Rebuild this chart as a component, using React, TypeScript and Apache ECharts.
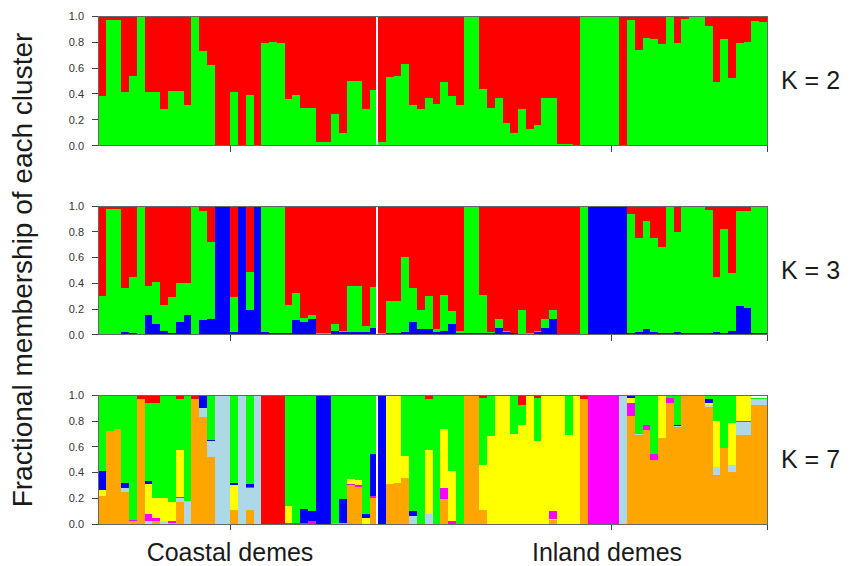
import React, { useEffect, useRef } from "react";
import * as echarts from "echarts";

// ---------- categories ----------
const N_COASTAL = 36;
const N_INLAND = 50;
const INDIVIDUALS: string[] = [
  ...Array.from({ length: N_COASTAL }, (_, i) => `C${i + 1}`),
  ...Array.from({ length: N_INLAND }, (_, i) => `I${i + 1}`),
];
const GROUP_LABELS = ["Coastal demes", "Inland demes"];
const GROUP_TICK_INDEX = [17, 66];
const Y_TICKS = [0, 0.2, 0.4, 0.6, 0.8, 1.0];
const PANEL_LABELS = ["K = 2", "K = 3", "K = 7"];

// ---------- K = 2 ----------
const K2_GREEN = [
  0.38, 0.97, 0.97, 0.41, 0.54, 0.99, 0.41, 0.41, 0.28, 0.42, 0.42, 0.31, 0.99, 0.73, 0.62, 0, 0, 0.41, 0, 0.39, 0, 0.79, 0.8, 0.79, 0.36, 0.39, 0.29, 0.29, 0.03, 0.03, 0.24, 0.1, 0.5, 0.5, 0.28, 0.43,
  0.03, 0.53, 0.54, 0.63, 0.31, 0.28, 0.37, 0.32, 0.49, 0.38, 0.31, 0.99, 0.99, 0.44, 0.29, 0.37, 0.17, 0.1, 0.28, 0.13, 0.16, 0.37, 0.37, 0.01, 0.01, 0, 1, 1, 1, 1, 1, 0, 0.97, 0.74, 0.83, 0.82, 0.78, 0.99, 0.79, 0.98, 0.99, 0.99, 0.92, 0.49, 0.82, 0.52, 0.79, 0.8, 0.96, 0.95,
];
const K2_RED = [
  0.62, 0.03, 0.03, 0.59, 0.46, 0.01, 0.59, 0.59, 0.72, 0.58, 0.58, 0.69, 0.01, 0.27, 0.38, 1, 1, 0.59, 1, 0.61, 1, 0.21, 0.2, 0.21, 0.64, 0.61, 0.71, 0.71, 0.97, 0.97, 0.76, 0.9, 0.5, 0.5, 0.72, 0.57,
  0.97, 0.47, 0.46, 0.37, 0.69, 0.72, 0.63, 0.68, 0.51, 0.62, 0.69, 0.01, 0.01, 0.56, 0.71, 0.63, 0.83, 0.9, 0.72, 0.87, 0.84, 0.63, 0.63, 0.99, 0.99, 1, 0, 0, 0, 0, 0, 1, 0.03, 0.26, 0.17, 0.18, 0.22, 0.01, 0.21, 0.02, 0.01, 0.01, 0.08, 0.51, 0.18, 0.48, 0.21, 0.2, 0.04, 0.05,
];

// ---------- K = 3 ----------
const K3_BLUE = [
  0, 0, 0, 0.02, 0.01, 0, 0.15, 0.08, 0.03, 0.01, 0.1, 0.15, 0, 0.11, 0.12, 1, 1, 0.02, 1, 0.19, 1, 0.02, 0.01, 0.01, 0.01, 0.11, 0.1, 0.12, 0, 0, 0.03, 0.02, 0.02, 0.02, 0.02, 0.05,
  0, 0.01, 0.01, 0.02, 0.1, 0.04, 0.04, 0.02, 0.03, 0.08, 0.01, 0.01, 0.01, 0.01, 0.01, 0.05, 0.02, 0.01, 0, 0, 0.02, 0.05, 0.12, 0, 0, 0, 0, 1, 1, 1, 1, 1, 0.01, 0.02, 0.04, 0.02, 0.01, 0.01, 0.02, 0.01, 0.01, 0.01, 0.01, 0.02, 0.01, 0.03, 0.22, 0.21, 0.01, 0.01,
];
const K3_GREEN = [
  0.3, 0.98, 0.98, 0.34, 0.44, 0.99, 0.23, 0.33, 0.2, 0.28, 0.3, 0.25, 0.99, 0.85, 0.6, 0, 0, 0.27, 0, 0.3, 0, 0.97, 0.98, 0.98, 0.22, 0.21, 0.03, 0.03, 0.01, 0.01, 0.05, 0.01, 0.36, 0.36, 0.05, 0.32,
  0.01, 0.25, 0.25, 0.58, 0.26, 0.15, 0.26, 0.02, 0.28, 0.1, 0.02, 0.98, 0.98, 0.3, 0.01, 0.07, 0.01, 0, 0.19, 0.01, 0.01, 0.07, 0.07, 0, 0, 0, 1, 0, 0, 0, 0, 0, 0.93, 0.73, 0.84, 0.73, 0.67, 0.98, 0.78, 0.98, 0.98, 0.98, 0.96, 0.43, 0.81, 0.45, 0.74, 0.75, 0.98, 0.98,
];
const K3_RED = [
  0.7, 0.02, 0.02, 0.64, 0.55, 0.01, 0.62, 0.59, 0.77, 0.71, 0.6, 0.6, 0.01, 0.04, 0.28, 0, 0, 0.71, 0, 0.51, 0, 0.01, 0.01, 0.01, 0.77, 0.68, 0.87, 0.85, 0.99, 0.99, 0.92, 0.97, 0.62, 0.62, 0.93, 0.63,
  0.99, 0.74, 0.74, 0.4, 0.64, 0.81, 0.7, 0.96, 0.69, 0.82, 0.97, 0.01, 0.01, 0.69, 0.98, 0.88, 0.97, 0.99, 0.81, 0.99, 0.97, 0.88, 0.81, 1, 1, 1, 0, 0, 0, 0, 0, 0, 0.06, 0.25, 0.12, 0.25, 0.32, 0.01, 0.2, 0.01, 0.01, 0.01, 0.03, 0.55, 0.18, 0.52, 0.04, 0.04, 0.01, 0.01,
];

// ---------- K = 7 ----------
const K7_ORANGE = [
  0.22, 0.72, 0.74, 0.25, 0.02, 0.97, 0, 0.02, 0, 0.01, 0.17, 0, 0.97, 0.83, 0.52, 0, 0, 0.11, 0, 0.11, 0, 0, 0, 0, 0, 0, 0, 0, 0, 0, 0.01, 0.01, 0.3, 0.29, 0, 0.2,
  0, 0.31, 0.32, 0.36, 0, 0, 0, 0, 0.19, 0, 0, 1, 1, 0.11, 0, 0, 0, 0, 0, 0, 0, 0, 0.03, 0, 0, 0, 0.97, 0, 0, 0, 0, 0, 0.84, 0.69, 0.73, 0.5, 0.67, 0.94, 0.75, 0.99, 0.99, 0.99, 0.91, 0.38, 0.59, 0.4, 0.69, 0.69, 0.92, 0.92,
];
const K7_LIGHTBLUE = [
  0, 0, 0, 0.03, 0, 0, 0.02, 0, 0.02, 0, 0.03, 0.18, 0, 0.07, 0.12, 1, 1, 0, 1, 0.17, 1, 0, 0, 0, 0, 0, 0, 0, 0, 0, 0, 0, 0, 0, 0, 0,
  0, 0, 0, 0, 0.06, 0, 0.08, 0, 0, 0, 0, 0, 0, 0, 0, 0, 0, 0, 0, 0, 0, 0, 0.01, 0, 0, 0, 0, 0, 0, 0, 0, 1, 0, 0.01, 0, 0, 0, 0, 0.01, 0, 0, 0, 0.01, 0.06, 0, 0.06, 0.1, 0.1, 0.05, 0.05,
];
const K7_MAGENTA = [
  0, 0, 0, 0, 0.01, 0, 0.06, 0.03, 0, 0.01, 0.01, 0, 0, 0, 0, 0, 0, 0, 0, 0.01, 0, 0, 0, 0, 0.01, 0.01, 0.01, 0.02, 0, 0, 0, 0, 0.01, 0.01, 0, 0.02,
  0, 0, 0, 0, 0, 0, 0, 0, 0.09, 0.02, 0, 0, 0, 0, 0, 0, 0, 0, 0, 0, 0, 0, 0.06, 0, 0, 0, 0, 1, 1, 1, 1, 0, 0.1, 0, 0.04, 0.04, 0, 0.04, 0, 0.01, 0, 0, 0, 0, 0, 0, 0.01, 0.01, 0, 0,
];
const K7_YELLOW = [
  0.04, 0, 0, 0, 0, 0, 0.23, 0.15, 0.18, 0.15, 0.36, 0, 0, 0, 0, 0, 0, 0.19, 0, 0, 0, 0, 0, 0, 0.13, 0, 0, 0, 0, 0, 0, 0, 0.04, 0.04, 0.05, 0,
  0, 0.69, 0.68, 0.17, 0, 0, 0.49, 0, 0.46, 0.39, 0, 0, 0, 0.35, 0.68, 1, 1, 0.7, 0.77, 1, 0.64, 1, 0.9, 1, 0.69, 1, 0, 0, 0, 0, 0, 0, 0.04, 0, 0, 0, 0.32, 0, 0, 0, 0, 0, 0.02, 0.36, 0, 0.32, 0.2, 0.2, 0, 0,
];
const K7_BLUE = [
  0.15, 0, 0, 0.04, 0, 0, 0.02, 0, 0, 0, 0, 0, 0, 0.1, 0.01, 0, 0, 0.02, 0, 0.02, 0, 0, 0, 0, 0, 0, 0.11, 0.08, 1, 1, 0, 0.18, 0, 0, 0.03, 0.32,
  1, 0, 0, 0, 0.04, 0, 0, 0, 0, 0, 0, 0, 0, 0, 0, 0, 0, 0, 0, 0, 0, 0, 0, 0, 0, 0, 0, 0, 0, 0, 0, 0, 0.02, 0, 0, 0, 0, 0, 0.01, 0, 0.01, 0, 0.03, 0, 0, 0, 0, 0, 0, 0,
];
const K7_GREEN = [
  0.59, 0.28, 0.26, 0.68, 0.97, 0, 0.61, 0.74, 0.8, 0.82, 0.4, 0.82, 0, 0, 0.35, 0, 0, 0.68, 0, 0.69, 0, 0, 0, 0, 0.86, 0.98, 0.88, 0.9, 0, 0, 0.99, 0.81, 0.65, 0.66, 0.92, 0.46,
  0, 0, 0, 0.47, 0.89, 1, 0.4, 1, 0.26, 0.59, 1, 0, 0, 0.52, 0.32, 0, 0, 0.3, 0.15, 0, 0.34, 0, 0, 0, 0.31, 0, 0, 0, 0, 0, 0, 0, 0, 0.3, 0.23, 0.46, 0.01, 0.02, 0.23, 0, 0, 0.01, 0.03, 0.2, 0.41, 0.22, 0, 0, 0.01, 0.01,
];
const K7_RED = [
  0, 0, 0, 0, 0, 0.03, 0.06, 0.06, 0, 0.01, 0.03, 0, 0.03, 0, 0, 0, 0, 0, 0, 0, 0, 1, 1, 1, 0, 0.01, 0, 0, 0, 0, 0, 0, 0, 0, 0, 0,
  0, 0, 0, 0, 0.01, 0, 0.03, 0, 0, 0, 0, 0, 0, 0.02, 0, 0, 0, 0, 0.08, 0, 0.02, 0, 0, 0, 0, 0, 0.03, 0, 0, 0, 0, 0, 0, 0, 0, 0, 0, 0, 0, 0, 0, 0, 0, 0, 0, 0, 0, 0, 0, 0, 0.02, 0.02,
];

const C = {
  red: "#FF0000",
  green: "#00FF00",
  blue: "#0000FF",
  orange: "#FFA500",
  yellow: "#FFFF00",
  magenta: "#FF00FF",
  lightblue: "#ADD8E6",
};

const FONT = "'Liberation Sans', Arial, Helvetica, sans-serif";

export default function App() {
  const ref = useRef<HTMLDivElement>(null);

  useEffect(() => {
    if (!ref.current) return;
    const chart = echarts.init(ref.current, null, { renderer: "svg" });

    const panels = [
      { top: 16, height: 129.5, clusters: [[C.green, K2_GREEN], [C.red, K2_RED]] },
      { top: 206, height: 128.5, clusters: [[C.blue, K3_BLUE], [C.green, K3_GREEN], [C.red, K3_RED]] },
      {
        top: 395,
        height: 129,
        clusters: [
          [C.orange, K7_ORANGE],
          [C.lightblue, K7_LIGHTBLUE],
          [C.magenta, K7_MAGENTA],
          [C.yellow, K7_YELLOW],
          [C.blue, K7_BLUE],
          [C.green, K7_GREEN],
          [C.red, K7_RED],
        ],
      },
    ];

    const grid: any[] = [];
    const xAxis: any[] = [];
    const yAxis: any[] = [];
    const series: any[] = [];
    const graphic: any[] = [];

    panels.forEach((p, pi) => {
      grid.push({
        left: 98,
        right: 93,
        top: p.top,
        height: p.height,
        show: true,
        borderColor: "#666",
        borderWidth: 1,
        backgroundColor: "transparent",
        z: 10,
      });
      xAxis.push({
        type: "category",
        gridIndex: pi,
        data: INDIVIDUALS,
        boundaryGap: true,
        axisLine: { show: false },
        axisLabel: { show: false },
        axisTick: {
          show: true,
          length: 6,
          interval: (index: number) => GROUP_TICK_INDEX.includes(index),
          lineStyle: { color: "#444", width: 1 },
        },
        splitLine: { show: false },
      });
      yAxis.push({
        type: "value",
        gridIndex: pi,
        min: 0,
        max: 1,
        interval: 0.2,
        axisLine: { show: false },
        axisTick: { show: true, length: 6, lineStyle: { color: "#444" } },
        axisLabel: {
          show: true,
          margin: 14,
          fontSize: 11,
          color: "#333",
          fontFamily: FONT,
          formatter: (v: number) => (Y_TICKS.some((t) => Math.abs(t - v) < 1e-6) ? v.toFixed(1) : ""),
        },
        splitLine: { show: false },
      });
      p.clusters.forEach(([color, data]: any, ci) => {
        series.push({
          type: "bar",
          name: `K${pi}-${ci}`,
          xAxisIndex: pi,
          yAxisIndex: pi,
          stack: `panel${pi}`,
          data,
          barCategoryGap: "0%",
          silent: true,
          itemStyle: { color, borderWidth: 0 },
        });
      });
      // white separator between coastal and inland demes
      series.push({
        type: "custom",
        xAxisIndex: pi,
        yAxisIndex: pi,
        z: 5,
        silent: true,
        data: [[N_COASTAL, 0]],
        renderItem: (params: any, api: any) => {
          const c = api.coord([api.value(0), 0]);
          const w = api.size([1, 0])[0];
          const x = c[0] - w / 2;
          const cs = params.coordSys;
          return {
            type: "rect",
            shape: { x: x - 2.4, y: cs.y + 0.5, width: 2, height: cs.height - 1 },
            style: { fill: "#FFFFFF" },
          };
        },
      });
      graphic.push({
        type: "text",
        left: 781,
        top: p.top + p.height / 2 - 13,
        style: { text: PANEL_LABELS[pi], fontSize: 25, fontFamily: FONT, fill: "#1a1a1a" },
      });
    });

    graphic.push({
      type: "text",
      x: 22,
      y: 270,
      rotation: Math.PI / 2,
      style: {
        text: "Fractional membership of each cluster",
        fontSize: 28,
        fontFamily: FONT,
        fill: "#1a1a1a",
        align: "center",
        verticalAlign: "middle",
      },
    });
    graphic.push({
      type: "text",
      x: 230,
      y: 552,
      style: { text: GROUP_LABELS[0], fontSize: 25, fontFamily: FONT, fill: "#1a1a1a", align: "center", verticalAlign: "middle" },
    });
    graphic.push({
      type: "text",
      x: 607,
      y: 552,
      style: { text: GROUP_LABELS[1], fontSize: 25, fontFamily: FONT, fill: "#1a1a1a", align: "center", verticalAlign: "middle" },
    });

    chart.setOption({
      animation: false,
      backgroundColor: "#FFFFFF",
      grid,
      xAxis,
      yAxis,
      series,
      graphic,
    });

    return () => chart.dispose();
  }, []);

  return (
    <>
      <style>{`#structure-chart svg path { shape-rendering: crispEdges; }`}</style>
      <div
        id="structure-chart"
        ref={ref}
        style={{ position: "fixed", left: 0, top: 0, width: 860, height: 566, background: "#fff" }}
      />
    </>
  );
}
